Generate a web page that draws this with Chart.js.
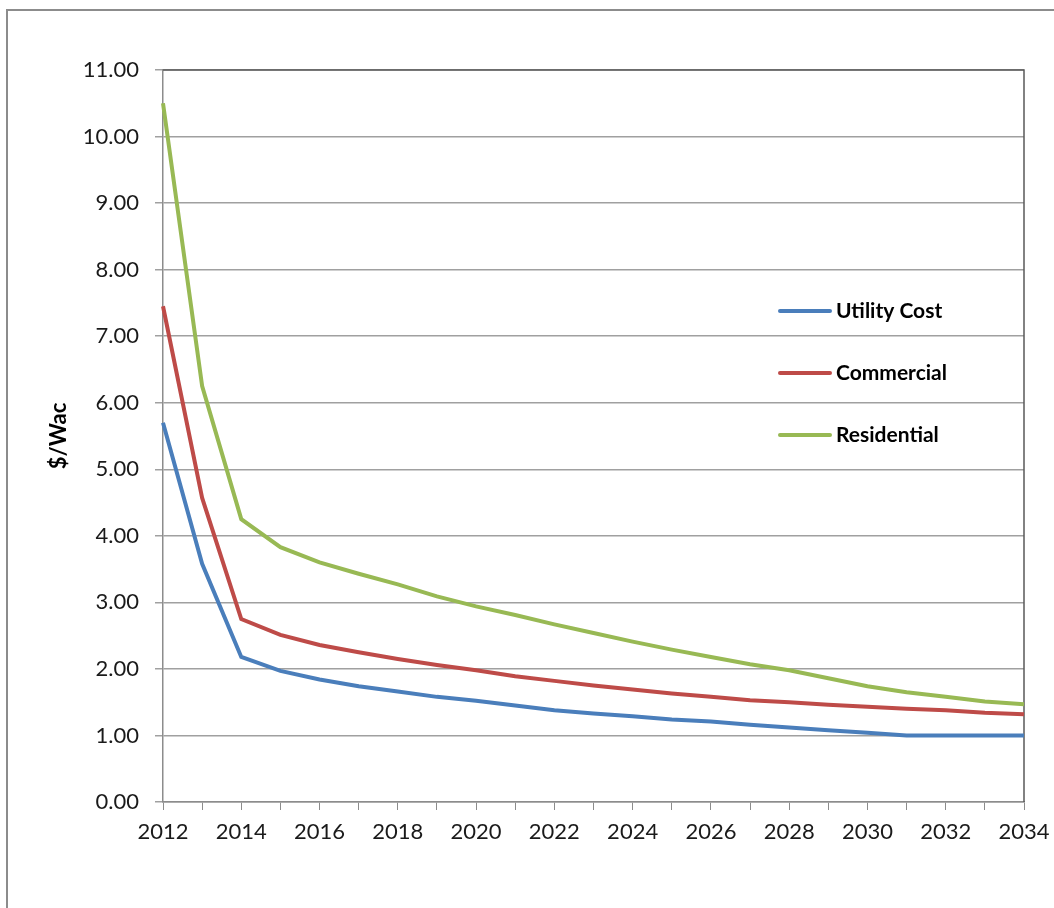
<!DOCTYPE html>
<html>
<head>
<meta charset="utf-8">
<script src="https://cdn.jsdelivr.net/npm/chart.js@4"></script>
<style>
  html, body { margin: 0; padding: 0; background: #fff; overflow: hidden; }
  #frame {
    position: absolute; left: 6px; top: 9px; width: 1200px; height: 1100px;
    border-left: 2px solid #8c8c8c; border-top: 2px solid #8c8c8c;
  }
  #wrap { position: absolute; left: 0; top: 0; width: 1054px; height: 908px; }
</style>
</head>
<body>
<div id="frame"></div>
<div id="wrap"><canvas id="costChart" width="1054" height="908"></canvas></div>
<script>
// Installed cost projections, $/Wac by year
const years = [2012, 2013, 2014, 2015, 2016, 2017, 2018, 2019, 2020, 2021, 2022, 2023,
               2024, 2025, 2026, 2027, 2028, 2029, 2030, 2031, 2032, 2033, 2034];
const utilityCost = [5.70, 3.58, 2.18, 1.97, 1.84, 1.74, 1.66, 1.58, 1.52, 1.45, 1.38, 1.33,
                     1.29, 1.24, 1.21, 1.16, 1.12, 1.08, 1.04, 1.00, 1.00, 1.00, 1.00];
const commercial = [7.45, 4.57, 2.75, 2.51, 2.36, 2.25, 2.15, 2.06, 1.98, 1.89, 1.82, 1.75,
                    1.69, 1.63, 1.58, 1.53, 1.50, 1.46, 1.43, 1.40, 1.38, 1.34, 1.32];
const residential = [10.50, 6.25, 4.25, 3.83, 3.60, 3.43, 3.27, 3.09, 2.94, 2.81, 2.67, 2.54,
                     2.41, 2.29, 2.18, 2.07, 1.98, 1.86, 1.74, 1.65, 1.58, 1.51, 1.47];
const seriesNames = ['Utility Cost', 'Commercial', 'Residential'];
const seriesColors = ['#4a7ebb', '#be4b48', '#98b954'];

const FONT = 'Lato, "Open Sans", sans-serif';

// legend drawn inside the plot, stacked on the right
const sideLegend = {
  id: 'sideLegend',
  afterDraw(chart) {
    const ctx = chart.ctx;
    ctx.save();
    chart.data.datasets.forEach((ds, i) => {
      const y = 311 + i * 62;
      ctx.strokeStyle = ds.borderColor;
      ctx.lineWidth = 4;
      ctx.lineCap = 'round';
      ctx.beginPath();
      ctx.moveTo(780, y);
      ctx.lineTo(830, y);
      ctx.stroke();
      ctx.fillStyle = '#000';
      ctx.font = 'bold 21px ' + FONT;
      ctx.textBaseline = 'middle';
      ctx.fillText(ds.label, 836, y);
    });
    ctx.restore();
  }
};

// dark top and right edges of the plot area
const plotEdges = {
  id: 'plotEdges',
  beforeDatasetsDraw(chart) {
    const { ctx, chartArea: a } = chart;
    ctx.save();
    ctx.strokeStyle = '#595959';
    ctx.lineWidth = 1.5;
    ctx.beginPath();
    ctx.moveTo(a.left, a.top);
    ctx.lineTo(a.right, a.top);
    ctx.lineTo(a.right, a.bottom);
    ctx.stroke();
    ctx.restore();
  }
};

new Chart(document.getElementById('costChart'), {
  type: 'line',
  data: {
    labels: years,
    datasets: [utilityCost, commercial, residential].map((vals, i) => ({
      label: seriesNames[i],
      data: vals,
      borderColor: seriesColors[i],
      backgroundColor: seriesColors[i],
      borderWidth: 4,
      pointRadius: 0,
      tension: 0,
      fill: false
    }))
  },
  options: {
    responsive: false,
    animation: false,
    layout: { padding: { left: 42, right: 30, top: 70, bottom: 0 } },
    plugins: {
      legend: { display: false },
      tooltip: { enabled: false }
    },
    scales: {
      x: {
        type: 'category',
        offset: false,
        afterFit(scale) {
          scale.height = 106;
          scale.paddingLeft = 0;
          scale.paddingRight = 0;
        },
        grid: {
          drawOnChartArea: false,
          drawTicks: true,
          tickLength: 8,
          color: '#8c8c8c'
        },
        border: { color: '#8c8c8c', width: 1.5 },
        ticks: {
          autoSkip: false,
          maxRotation: 0,
          padding: 9,
          color: '#1a1a1a',
          font: { family: FONT, size: 22 },
          callback(value, index) { return index % 2 === 0 ? years[index] : ''; }
        }
      },
      y: {
        min: 0,
        max: 11,
        afterFit(scale) { scale.width = 163 - 42; },
        title: {
          display: true,
          text: '$/Wac',
          color: '#000',
          font: { family: FONT, size: 22, weight: 'bold' },
          padding: { top: 4, bottom: 4 }
        },
        grid: {
          color: '#a0a0a0',
          lineWidth: 1.5,
          tickLength: 8
        },
        border: { color: '#8c8c8c', width: 1.5 },
        ticks: {
          stepSize: 1,
          padding: 16,
          color: '#1a1a1a',
          font: { family: FONT, size: 22 },
          callback: v => v.toFixed(2)
        }
      }
    }
  },
  plugins: [plotEdges, sideLegend]
});
</script>
</body>
</html>
